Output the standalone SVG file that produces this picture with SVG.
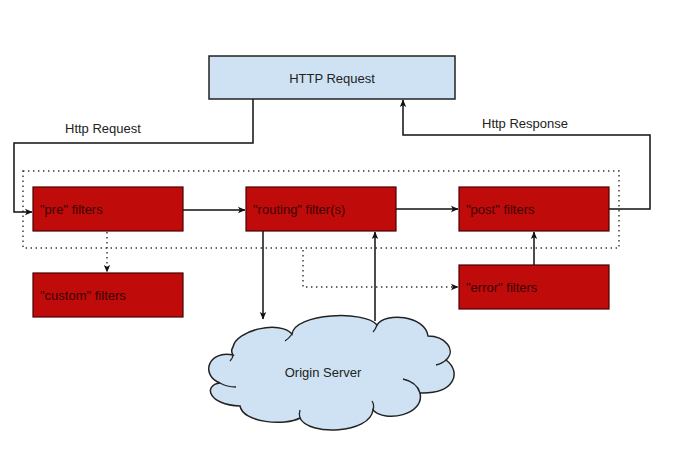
<svg xmlns="http://www.w3.org/2000/svg" width="690" height="468" viewBox="0 0 690 468">
<defs>
<marker id="ah" markerWidth="8" markerHeight="8" refX="7" refY="4" orient="auto" markerUnits="userSpaceOnUse">
<path d="M0,0.8 L7.5,4 L0,7.2 L1.8,4 Z" fill="#111"/>
</marker>
</defs>
<style>
.lbl{font-family:"Liberation Sans",Arial,sans-serif;font-size:13px;fill:#222}
.ftxt{font-family:"Liberation Sans",Arial,sans-serif;font-size:13px;fill:#3a0000}
.filter{fill:#c00b0b;stroke:#4a0000;stroke-width:1.2}
.blue{fill:#cfe2f3;stroke:#222;stroke-width:1.5}
.line{fill:none;stroke:#111;stroke-width:1.5}
.dot{fill:none;stroke:#333;stroke-width:1.4;stroke-dasharray:1.4 3.6}
.inner{fill:none;stroke:#222;stroke-width:1.3}
</style>
<rect width="690" height="468" fill="#fff"/>
<rect id="container" x="23" y="171" width="596" height="77" class="dot"/>
<g id="connectors">
<path class="line" d="M253,99 V143 H14 V212 H32" marker-end="url(#ah)"/>
<path class="line" d="M183,210 H245" marker-end="url(#ah)"/>
<path class="line" d="M396,209 H458" marker-end="url(#ah)"/>
<path class="line" d="M609,209 H650 V135 H403 V100" marker-end="url(#ah)"/>
<path class="dot" d="M107,232 V272" marker-end="url(#ah)"/>
<path class="dot" d="M303,250 V287 H458" marker-end="url(#ah)"/>
<path class="line" d="M263,231 V319" marker-end="url(#ah)"/>
<path class="line" d="M375,321 V232" marker-end="url(#ah)"/>
<path class="line" d="M534,265 V232" marker-end="url(#ah)"/>
<text class="lbl" x="65" y="133">Http Request</text>
<text class="lbl" x="482" y="128">Http Response</text>
</g>
<g id="http-request">
<rect x="209" y="56" width="246" height="43" class="blue"/>
<text class="lbl" x="332" y="83" text-anchor="middle">HTTP Request</text>
</g>
<g id="pre-filters">
<rect x="33" y="187" width="150" height="44" class="filter"/>
<text class="ftxt" x="40" y="214">"pre" filters</text>
</g>
<g id="routing-filters">
<rect x="246" y="187" width="150" height="44" class="filter"/>
<text class="ftxt" x="253" y="214">"routing" filter(s)</text>
</g>
<g id="post-filters">
<rect x="459" y="187" width="150" height="44" class="filter"/>
<text class="ftxt" x="466" y="214">"post" filters</text>
</g>
<g id="custom-filters">
<rect x="33" y="273" width="150" height="44" class="filter"/>
<text class="ftxt" x="40" y="300">"custom" filters</text>
</g>
<g id="error-filters">
<rect x="459" y="265" width="150" height="44" class="filter"/>
<text class="ftxt" x="466" y="292">"error" filters</text>
</g>
<g id="origin-server">
<path class="blue" d="M233,347 C236,330 280,320 292,334 C295,313 365,310 377,325 C385,312 425,315 428,336 C445,336 457,350 446,360 C462,372 455,394 420,393 C425,415 385,423 373,410 C370,434 308,436 300,418 C285,426 243,423 240,406 C208,405 203,385 220,383 C200,375 208,350 233,355 C231,352 231,350 233,347 Z"/>
<path class="inner" d="M292,334 C290,337 288,339 285,341"/>
<path class="inner" d="M377,325 C376,328 375,330 373,332"/>
<path class="inner" d="M446,360 C443,363 440,364 436,365"/>
<path class="inner" d="M420,393 C418,386 412,381 403,379"/>
<path class="inner" d="M373,410 C374,407 374,404 372,401"/>
<path class="inner" d="M300,418 C299,415 299,413 300,410"/>
<path class="inner" d="M220,383 C225,386 230,387 236,387"/>
<path class="inner" d="M233,355 C233,357 232,359 230,361"/>
<text class="lbl" x="323" y="377" text-anchor="middle">Origin Server</text>
</g>
</svg>
